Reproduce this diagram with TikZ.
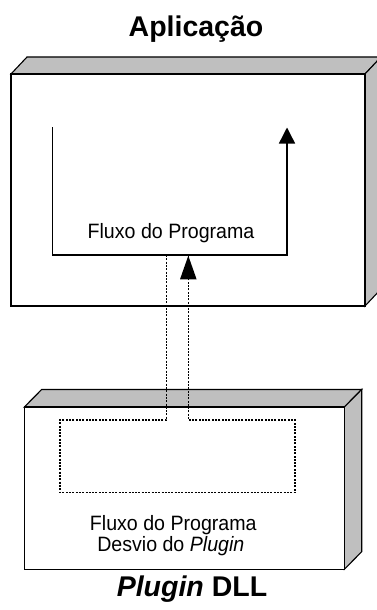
\documentclass[tikz,border=0pt]{standalone}
\usepackage{fontspec}
\setmainfont{Liberation Sans}
\usetikzlibrary{arrows.meta}
\begin{document}
\begin{tikzpicture}[x=1pt,y=-1pt,
  face/.style={draw=black,line width=1.1pt,fill=white},
  sideface/.style={draw=black,line width=1.1pt,fill=black!25},
  flow/.style={draw=black,line width=1.4pt},
  dotline/.style={draw=black,line width=1.5pt,dash pattern=on 2pt off 1.3pt},
  body/.style={font=\fontsize{19.6}{23}\selectfont,anchor=base,inner sep=0pt,yscale=1.06},
  title/.style={font=\fontsize{28.5}{31}\selectfont\bfseries,anchor=base,inner sep=0pt}]
\useasboundingbox (0,0) rectangle (377,610);
\clip (0,0) rectangle (377,610);
\fill[white] (0,0) rectangle (377,610);
% top box
\coordinate (a1) at (11,74);
\coordinate (a2) at (365,306);
\filldraw[sideface] (11,74) -- (27,57) -- (381,57) -- (365,74) -- cycle;
\filldraw[sideface] (365,74) -- (381,57) -- (381,289) -- (365,306) -- cycle;
\filldraw[face] (a1) rectangle (a2);
% bottom box
\coordinate (b1) at (24.3,407);
\coordinate (b2) at (344.3,569.3);
\filldraw[sideface] (24.3,407) -- (41.7,389.5) -- (361.7,389.5) -- (344.3,407) -- cycle;
\filldraw[sideface] (344.3,407) -- (361.7,389.5) -- (361.7,551.7) -- (344.3,569.3) -- cycle;
\filldraw[face] (b1) rectangle (b2);
% titles
\node[title] (tA) at (196,37) {Aplicação};
\node[title] (tP) at (192,596) {\itshape Plugin\/\upshape{} DLL};
% flow in app
\coordinate (f1) at (52.7,127);
\coordinate (f2) at (52.7,255);
\coordinate (f3) at (287,255);
\coordinate (f4) at (287,127.5);
\draw[flow,-{Triangle[width=16pt,length=16pt]}] (f1) -- (f2) -- (f3) -- (f4);
\node[body] (l1) at (171,238.3) {Fluxo do Programa};
% dotted detour
\coordinate (d1) at (166.7,255);
\coordinate (d2) at (166.7,420);
\coordinate (d3) at (60,420);
\coordinate (d4) at (60,492.3);
\coordinate (d5) at (295,492.3);
\coordinate (d6) at (295,420);
\coordinate (d7) at (188.3,420);
\coordinate (d8) at (188.3,255.7);
\draw[dotline] (d1) -- (d2) -- (d3) -- (d4) -- (d5) -- (d6) -- (d7) -- (d8);
\fill[black] (d8) -- (180,279.3) -- (196.6,279.3) -- cycle;
\node[body] (l2) at (173.3,530) {Fluxo do Programa};
\node[body] (l3) at (170.8,551.7) {Desvio do \itshape Plugin};
\end{tikzpicture}
\end{document}
